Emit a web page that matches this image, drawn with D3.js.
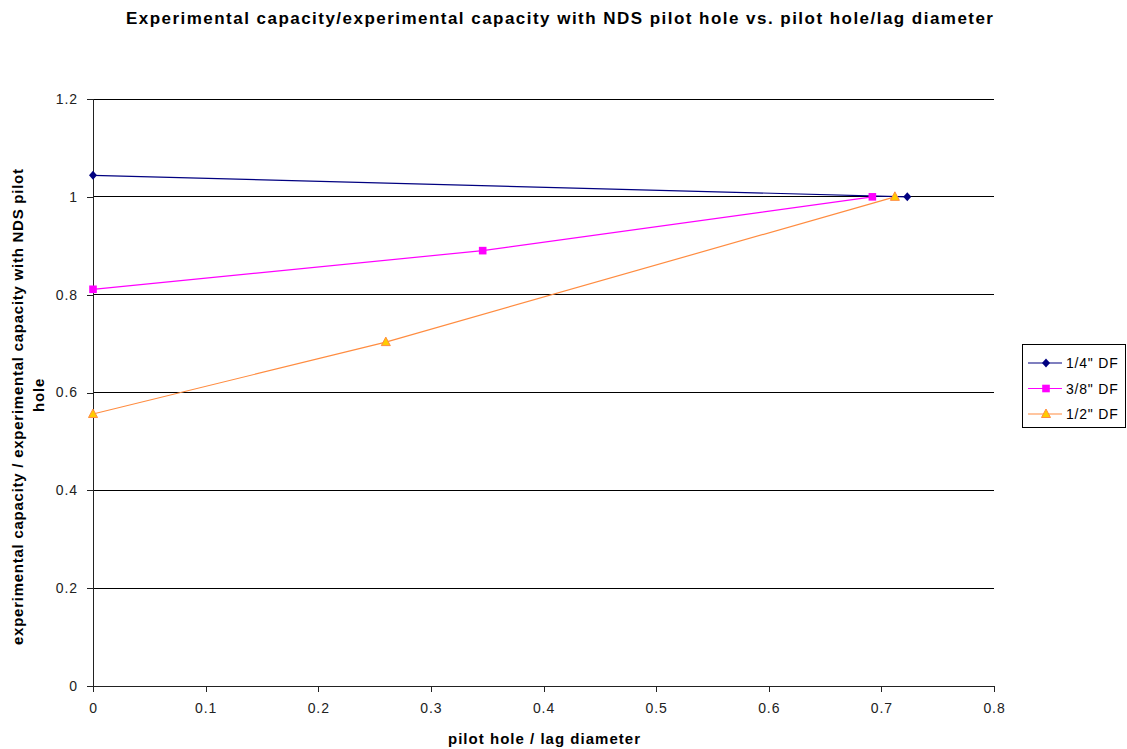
<!DOCTYPE html>
<html>
<head>
<meta charset="utf-8">
<script src="https://cdn.jsdelivr.net/npm/d3@7"></script>
<style>
  body { margin: 0; background: #fff; }
  text { font-family: "Liberation Sans", Arial, sans-serif; }
</style>
</head>
<body>
<svg id="chart" width="1127" height="749"></svg>
<script>
// data
const seriesNames = ['1/4" DF', '3/8" DF', '1/2" DF'];
const quarterX = [0, 0.723];
const quarterY = [1.044, 1.0];
const threeEighthX = [0, 0.346, 0.692];
const threeEighthY = [0.811, 0.89, 1.0];
const halfX = [0, 0.26, 0.712];
const halfY = [0.556, 0.703, 1.0];
const xTicks = [0, 0.1, 0.2, 0.3, 0.4, 0.5, 0.6, 0.7, 0.8];
const yTicks = [0, 0.2, 0.4, 0.6, 0.8, 1, 1.2];

const colors = ['#000080', '#ff00ff', '#ff8c40'];
const shapes = ['diamond', 'square', 'triangle'];

const series = [
    { name: seriesNames[0], xs: quarterX, ys: quarterY },
    { name: seriesNames[1], xs: threeEighthX, ys: threeEighthY },
    { name: seriesNames[2], xs: halfX, ys: halfY }
];

const svg = d3.select('#chart'),
    margin = { left: 93, right: 133, top: 99, bottom: 63 },
    width = 1127 - margin.left - margin.right,
    height = 749 - margin.top - margin.bottom;

const x = d3.scaleLinear().domain([0, 0.8]).range([0, width]),
    y = d3.scaleLinear().domain([0, 1.2]).range([height, 0]);

const g = svg.append('g').attr('transform', `translate(${margin.left},${margin.top})`);

// gridlines
g.append('g')
    .selectAll('line')
    .data(yTicks.filter(d => d > 0))
    .enter().append('line')
    .attr('x1', 0).attr('x2', width)
    .attr('y1', d => y(d)).attr('y2', d => y(d))
    .attr('stroke', '#000').attr('stroke-width', 1)
    .attr('shape-rendering', 'crispEdges');

const fmt = d => String(+d.toFixed(1));

const xAxis = g.append('g')
    .attr('transform', `translate(0,${height})`)
    .call(d3.axisBottom(x).tickValues(xTicks).tickFormat(fmt).tickSize(6).tickPadding(11));
const yAxis = g.append('g')
    .call(d3.axisLeft(y).tickValues(yTicks).tickFormat(fmt).tickSize(6).tickPadding(9));

[xAxis, yAxis].forEach(a => {
    a.selectAll('path, line').attr('stroke', '#222').attr('shape-rendering', 'crispEdges');
    a.selectAll('text').attr('font-size', 14).attr('fill', '#222')
        .attr('letter-spacing', 0.9)
        .attr('font-family', '"Liberation Sans", Arial, sans-serif');
});
yAxis.select('.domain').attr('d', `M0,0V${height}`);
xAxis.select('.domain').attr('d', `M0,0H${width}`);

const line = d3.line().x(d => x(d[0])).y(d => y(d[1]));

function marker (sel, shape, color) {
    if (shape === 'diamond') {
        sel.append('path').attr('d', 'M0,-4.5L4,0L0,4.5L-4,0Z').attr('fill', color).attr('stroke', 'none');
    } else if (shape === 'square') {
        sel.append('rect').attr('x', -3.8).attr('y', -3.8).attr('width', 7.6).attr('height', 7.6)
            .attr('fill', color).attr('stroke', 'none');
    } else {
        sel.append('path').attr('d', 'M0,-5L4.5,3.5L-4.5,3.5Z').attr('fill', '#ffcc00').attr('stroke', color)
            .attr('stroke-width', 1);
    }
}

series.forEach((s, i) => {
    const pts = s.xs.map((v, k) => [v, s.ys[k]]);
    g.append('path')
        .datum(pts)
        .attr('d', line)
        .attr('fill', 'none')
        .attr('stroke', colors[i])
        .attr('stroke-width', 1.2);
    pts.forEach(p => {
        const m = g.append('g').attr('transform', `translate(${x(p[0])},${y(p[1])})`);
        marker(m, shapes[i], colors[i]);
    });
});

// title
svg.append('text')
    .attr('x', 126).attr('y', 24)
    .attr('font-size', 17).attr('font-weight', 'bold')
    .attr('textLength', 867).attr('lengthAdjust', 'spacing')
    .text('Experimental capacity/experimental capacity with NDS pilot hole vs. pilot hole/lag diameter');

// axis titles
svg.append('text')
    .attr('x', 448).attr('y', 744)
    .attr('font-size', 15).attr('font-weight', 'bold')
    .attr('textLength', 192).attr('lengthAdjust', 'spacing')
    .text('pilot hole / lag diameter');

svg.append('text')
    .attr('transform', 'translate(23,645) rotate(-90)')
    .attr('font-size', 15).attr('font-weight', 'bold')
    .attr('textLength', 476).attr('lengthAdjust', 'spacing')
    .text('experimental capacity / experimental capacity with NDS pilot');
svg.append('text')
    .attr('transform', 'translate(44,395) rotate(-90)')
    .attr('text-anchor', 'middle')
    .attr('font-size', 15).attr('font-weight', 'bold')
    .attr('letter-spacing', 0.8)
    .text('hole');

// legend
const leg = svg.append('g').attr('transform', 'translate(1022,344)');
leg.append('rect').attr('width', 103).attr('height', 83)
    .attr('fill', '#fff').attr('stroke', '#000').attr('shape-rendering', 'crispEdges');
series.forEach((s, i) => {
    const row = leg.append('g').attr('transform', `translate(0,${19 + i * 25.5})`);
    row.append('line').attr('x1', 6).attr('x2', 40).attr('y1', 0).attr('y2', 0)
        .attr('stroke', colors[i]).attr('stroke-width', 1.2);
    const m = row.append('g').attr('transform', 'translate(24,0)');
    marker(m, shapes[i], colors[i]);
    row.append('text').attr('x', 44).attr('y', 5)
        .attr('font-size', 14).attr('letter-spacing', 0.8).text(s.name);
});
</script>
</body>
</html>
